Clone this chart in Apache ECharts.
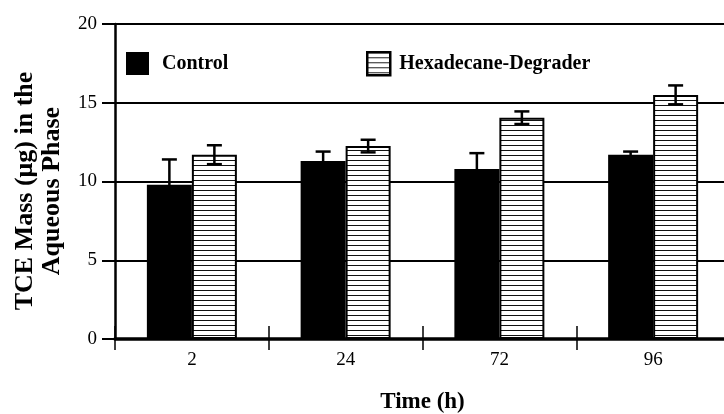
<!DOCTYPE html>
<html>
<head>
<meta charset="utf-8">
<script src="https://cdn.jsdelivr.net/npm/echarts@6/dist/echarts.min.js"></script>
<style>html,body{margin:0;padding:0;background:#fff;}#c{width:724px;height:414px;}</style>
</head>
<body>
<div id="c"></div>
<script>
var categories = ['2', '24', '72', '96'];
var controlValues = [9.8, 11.3, 10.8, 11.7];
var controlErrors = [1.6, 0.6, 1.0, 0.2];
var hexValues = [11.7, 12.25, 14.05, 15.5];
var hexErrors = [0.6, 0.4, 0.4, 0.6];
var yTicks = [0, 5, 10, 15, 20];

var FONT = '"Liberation Serif", "Times New Roman", serif';
var BAR_W = 45;

var pc = document.createElement('canvas');
pc.width = 8; pc.height = 5;
var ctx = pc.getContext('2d');
ctx.fillStyle = '#fff'; ctx.fillRect(0, 0, 8, 5);
ctx.fillStyle = '#111'; ctx.fillRect(0, 0, 8, 1);
var hatch = { image: pc, repeat: 'repeat' };

function errData(vals, errs) {
  return vals.map(function (v, i) { return [i, v - errs[i], v + errs[i]]; });
}

function errRender(offset) {
  return function (params, api) {
    var idx = api.value(0);
    var lo = api.coord([idx, api.value(1)]);
    var hi = api.coord([idx, api.value(2)]);
    var x = hi[0] + offset;
    var half = 7.5;
    var st = { stroke: '#000', lineWidth: 2.5 };
    return {
      type: 'group',
      children: [
        { type: 'line', shape: { x1: x, y1: lo[1], x2: x, y2: hi[1] }, style: st },
        { type: 'line', shape: { x1: x - half, y1: hi[1], x2: x + half, y2: hi[1] }, style: st },
        { type: 'line', shape: { x1: x - half, y1: lo[1], x2: x + half, y2: lo[1] }, style: st }
      ]
    };
  };
}

var chart = echarts.init(document.getElementById('c'));
chart.setOption({
  animation: false,
  backgroundColor: '#fff',
  grid: { left: 115, top: 24, width: 615, height: 315, containLabel: false, outerBoundsMode: 'none' },
  legend: [
    {
      data: ['Control'], left: 121, top: 47, itemWidth: 23, itemHeight: 23, icon: 'rect',
      textStyle: { fontFamily: FONT, fontWeight: 'bold', fontSize: 20, color: '#000', padding: [0, 0, 0, 8] }
    },
    {
      data: [{ name: 'Hexadecane-Degrader', itemStyle: { borderColor: '#000', borderWidth: 2.5 } }],
      left: 361, top: 46, itemWidth: 23, itemHeight: 23, icon: 'rect',
      textStyle: { fontFamily: FONT, fontWeight: 'bold', fontSize: 20, color: '#000', padding: [0, 0, 0, 4] }
    }
  ],
  xAxis: [
    {
      type: 'category', data: categories,
      name: 'Time (h)', nameLocation: 'middle', nameGap: 52,
      nameTextStyle: { fontFamily: FONT, fontWeight: 'bold', fontSize: 23, color: '#000' },
      axisLine: { lineStyle: { color: '#000', width: 3.5 } },
      axisTick: { show: true, inside: false, length: 11, lineStyle: { color: '#000', width: 1.5 } },
      axisLabel: { fontFamily: FONT, fontSize: 19, color: '#000', margin: 12 },
      splitLine: { show: false }
    },
    {
      type: 'category', data: categories, position: 'bottom',
      axisLine: { show: false },
      axisTick: { show: true, inside: true, length: 13, lineStyle: { color: '#000', width: 1.5 } },
      axisLabel: { show: false },
      splitLine: { show: false }
    }
  ],
  yAxis: {
    type: 'value', min: yTicks[0], max: yTicks[yTicks.length - 1], interval: 5,
    axisLine: { show: true, lineStyle: { color: '#000', width: 2.5 } },
    axisTick: { show: true, inside: false, length: 13, lineStyle: { color: '#000', width: 2 } },
    axisLabel: { fontFamily: FONT, fontSize: 19, color: '#000', margin: 18 },
    splitLine: { show: true, lineStyle: { color: '#000', width: 2 } }
  },
  graphic: [
    {
      type: 'text', x: 39, y: 191, rotation: Math.PI / 2,
      style: {
        text: 'TCE Mass (μg) in the\nAqueous Phase',
        font: 'bold 26px ' + FONT, fill: '#000',
        textAlign: 'center', textVerticalAlign: 'middle', lineHeight: 27
      }
    }
  ],
  series: [
    {
      name: 'Control', type: 'bar', data: controlValues, barWidth: BAR_W, barGap: '0%',
      itemStyle: { color: '#000' }, z: 3
    },
    {
      name: 'Hexadecane-Degrader', type: 'bar', data: hexValues, barWidth: BAR_W, barGap: '0%',
      itemStyle: { color: hatch, borderColor: '#000', borderWidth: 2 }, z: 3
    },
    {
      type: 'custom', data: errData(controlValues, controlErrors),
      encode: { x: 0, y: [1, 2] }, renderItem: errRender(-BAR_W / 2), z: 5, silent: true
    },
    {
      type: 'custom', data: errData(hexValues, hexErrors),
      encode: { x: 0, y: [1, 2] }, renderItem: errRender(BAR_W / 2), z: 5, silent: true
    }
  ]
});
</script>
</body>
</html>
